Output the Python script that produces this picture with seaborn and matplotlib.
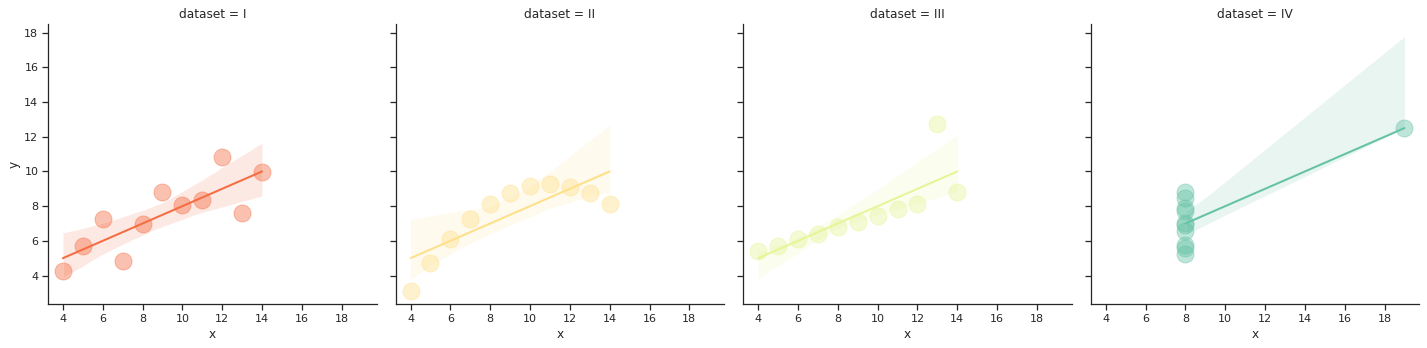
import numpy as np
import pandas as pd
import seaborn as sns
import matplotlib
matplotlib.use("Agg")
import matplotlib.pyplot as plt

datasets = ["I", "II", "III", "IV"]
x_I = [10, 8, 13, 9, 11, 14, 6, 4, 12, 7, 5]
y_I = [8.04, 6.95, 7.58, 8.81, 8.33, 9.96, 7.24, 4.26, 10.84, 4.82, 5.68]
x_II = [10, 8, 13, 9, 11, 14, 6, 4, 12, 7, 5]
y_II = [9.14, 8.14, 8.74, 8.77, 9.26, 8.10, 6.13, 3.10, 9.13, 7.26, 4.74]
x_III = [10, 8, 13, 9, 11, 14, 6, 4, 12, 7, 5]
y_III = [7.46, 6.77, 12.74, 7.11, 7.81, 8.84, 6.08, 5.39, 8.15, 6.42, 5.73]
x_IV = [8, 8, 8, 8, 8, 8, 8, 19, 8, 8, 8]
y_IV = [6.58, 5.76, 7.71, 8.84, 8.47, 7.04, 5.25, 12.50, 5.56, 7.91, 6.89]

xs = [x_I, x_II, x_III, x_IV]
ys = [y_I, y_II, y_III, y_IV]
df = pd.concat([pd.DataFrame({"dataset": d, "x": xv, "y": yv})
                for d, xv, yv in zip(datasets, xs, ys)], ignore_index=True)

DPI = 73
W, H = 1428 / DPI, 348 / DPI

sns.set_theme(style="ticks")
g = sns.lmplot(data=df, x="x", y="y", col="dataset", hue="dataset",
               palette=sns.color_palette("Spectral", 4),
               height=H, aspect=W / 4 / H,
               scatter_kws={"s": 280, "alpha": 0.42},
               line_kws={"linewidth": 2}, seed=0)
g.set(xlim=(3.25, 19.75), ylim=(2.35, 18.5),
      xticks=[4, 6, 8, 10, 12, 14, 16, 18], yticks=[4, 6, 8, 10, 12, 14, 16, 18])
g.figure.set_size_inches(W, H)
g.figure.subplots_adjust(left=0.0336, right=0.994, top=0.931, bottom=0.126, wspace=0.058)
g.figure.savefig("out.png", dpi=DPI)
